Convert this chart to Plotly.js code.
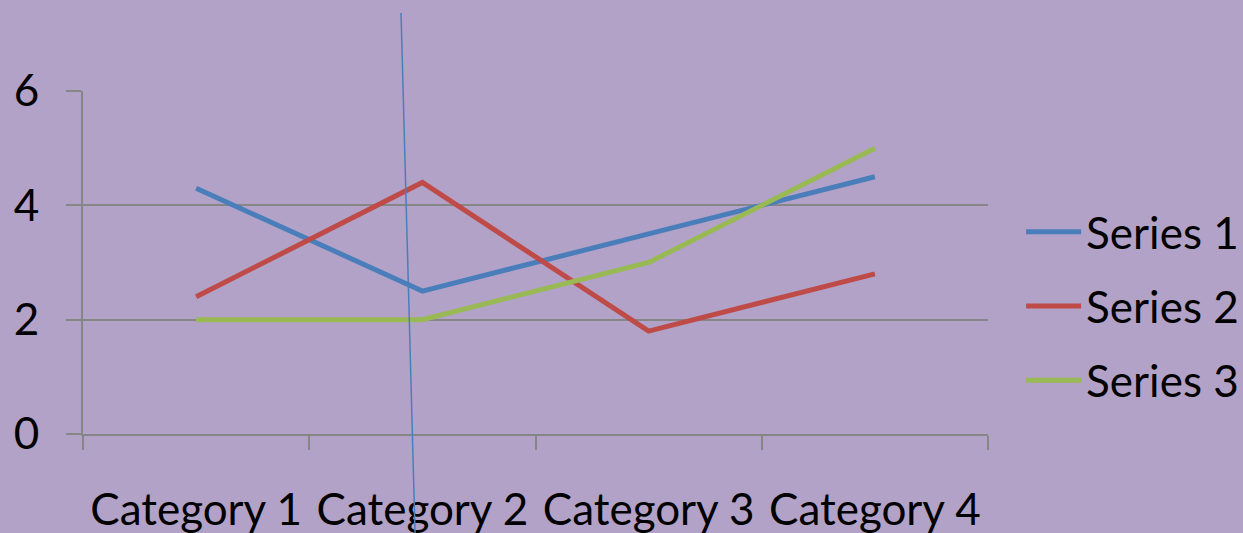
<!DOCTYPE html>
<html><head><meta charset="utf-8">
<script src="https://cdn.plot.ly/plotly-3.0.1.min.js"></script>
<style>html,body{margin:0;padding:0;background:#B3A2C7;}</style>
</head><body>
<div id="chart" style="width:1243px;height:533px;"></div>
<script>
const categories = ["Category 1", "Category 2", "Category 3", "Category 4"];
const series1 = [4.3, 2.5, 3.5, 4.5];
const series2 = [2.4, 4.4, 1.8, 2.8];
const series3 = [2, 2, 3, 5];
const seriesNames = ["Series 1", "Series 2", "Series 3"];
const yTicks = [0, 2, 4, 6];

const colors = ["#4A7EBB", "#BE4B48", "#98B954"];
const FONT = "Lato, 'Open Sans', sans-serif";
const vals = [series1, series2, series3];
const traces = vals.map((v, i) => ({
  type: "scatter", mode: "lines", x: categories, y: v, name: seriesNames[i],
  legendgroup: "g" + i,
  line: {color: colors[i], width: 5}
}));

const layout = {
  width: 1243, height: 533,
  paper_bgcolor: "#B3A2C7", plot_bgcolor: "#B3A2C7",
  margin: {l: 83, r: 255, t: 91, b: 99},
  font: {family: FONT, size: 44, color: "#000"},
  showlegend: true,
  legend: {xref: "container", yref: "container", x: 0.8215, xanchor: "left",
           y: 0.4256, yanchor: "middle", itemwidth: 55,
           bgcolor: "rgba(0,0,0,0)", traceorder: "grouped", tracegroupgap: 14,
           font: {family: FONT, size: 44, color: "#000"}},
  xaxis: {type: "category", range: [-0.5, 3.5], tickson: "boundaries", ticks: "outside", ticklen: 14,
          tickwidth: 2, tickcolor: "#868686", showline: true, linecolor: "#868686", linewidth: 2,
          showgrid: false, zeroline: false, ticklabelstandoff: 36, fixedrange: true},
  yaxis: {range: [0, 6], tickvals: yTicks, ticks: "outside", ticklen: 15, tickwidth: 2,
          tickcolor: "#868686", showline: true, linecolor: "#868686", linewidth: 2,
          showgrid: true, gridcolor: "#868686", gridwidth: 2, zeroline: false,
          ticklabelstandoff: 18, fixedrange: true},
  shapes: [{type: "line", xref: "paper", yref: "paper", x0: 0.3514, y0: 1.2274, x1: 0.3669, y1: -0.2886,
            line: {color: "#4A7EBB", width: 1.5}}]
};
Plotly.newPlot("chart", traces, layout, {displayModeBar: false, staticPlot: true});
</script>
</body></html>
